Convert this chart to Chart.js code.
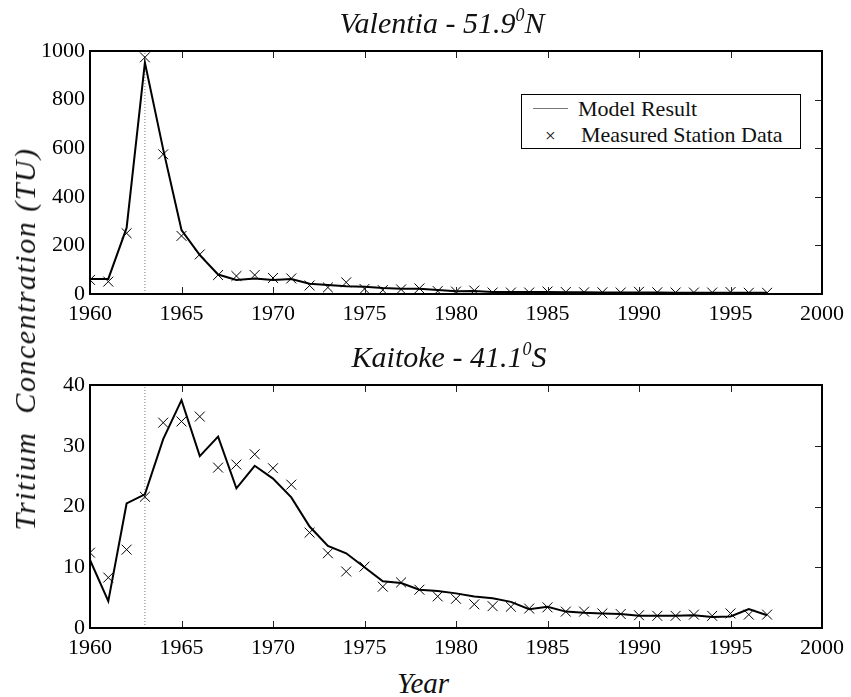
<!DOCTYPE html>
<html>
<head>
<meta charset="utf-8">
<script src="https://cdn.jsdelivr.net/npm/chart.js@4.4.0/dist/chart.umd.min.js"></script>
<style>
    body { margin: 0; background: #fff; width: 851px; height: 697px; position: relative; overflow: hidden;
           font-family: "Liberation Serif", "DejaVu Serif", serif; color: #111; }
    canvas { position: absolute; left: 0; }
    #graficoValentia { top: 30px; }
    #graficoKaitoke { top: 364px; }
    .texto { position: absolute; font-style: italic; font-size: 30px; line-height: 1; white-space: nowrap; z-index: 2; }
    .titulo { transform: translateX(-50%); }
    .titulo sup { font-size: 18px; vertical-align: 0; position: relative; top: -12px; }
    #eixoY { left: 25px; top: 339px; letter-spacing: 1.5px; transform: translate(-50%, -50%) rotate(-90deg); }
    #eixoX { font-size: 29px; }
    #legenda { position: absolute; left: 521px; top: 94px; width: 280px; height: 55px; box-sizing: border-box;
               border: 1.5px solid #000; background: #fff; font-size: 22px; z-index: 2; }
    #legenda span { position: absolute; line-height: 1; white-space: nowrap; }
    #legenda .linha { left: 11px; top: 13px; width: 35px; border-top: 1px solid #777; }
</style>
</head>
<body>
<canvas id="graficoValentia" width="851" height="300"></canvas>
<canvas id="graficoKaitoke" width="851" height="300"></canvas>

<div class="texto titulo" style="left:442px; top:8px;">Valentia - 51.9<sup>0</sup>N</div>
<div class="texto titulo" style="left:449px; top:342px;">Kaitoke - 41.1<sup>0</sup>S</div>
<div class="texto" id="eixoY">Tritium&nbsp; Concentration (TU)</div>
<div class="texto titulo" id="eixoX" style="left:423px; top:669px;">Year</div>

<div id="legenda">
    <span class="linha"></span>
    <span style="left:56px; top:3px;">Model Result</span>
    <span style="left:23px; top:31px; font-size:19px;">×</span>
    <span style="left:59px; top:29px;">Measured Station Data</span>
</div>

<script>
const years = [1960, 1961, 1962, 1963, 1964, 1965, 1966, 1967, 1968, 1969,
               1970, 1971, 1972, 1973, 1974, 1975, 1976, 1977, 1978, 1979,
               1980, 1981, 1982, 1983, 1984, 1985, 1986, 1987, 1988, 1989,
               1990, 1991, 1992, 1993, 1994, 1995, 1996, 1997];

const valentiaModel = [62, 62, 272, 952, 595, 263, 160, 80, 58, 64,
                       58, 62, 42, 37, 32, 30, 25, 22, 22, 16,
                       11, 12, 8, 8, 8, 8, 7, 7, 6, 6,
                       6, 6, 5, 5, 5, 5, 5, 5];
const valentiaMeasured = [58, 51, 250, 974, 575, 239, 163, 78, 74, 78,
                          66, 64, 35, 27, 48, 21, 16, 19, 23, 12,
                          10, 14, 6, 6, 6, 10, 8, 7, 7, 6,
                          9, 7, 6, 6, 6, 8, 5, 5];

const kaitokeModel = [11.2, 4.4, 20.5, 22.0, 31.1, 37.5, 28.3, 31.5, 23.0, 26.7,
                      24.6, 21.5, 16.7, 13.5, 12.3, 10.0, 7.7, 7.4, 6.3, 6.1,
                      5.7, 5.2, 4.9, 4.3, 3.1, 3.5, 2.7, 2.5, 2.4, 2.3,
                      2.0, 2.0, 2.0, 2.1, 1.8, 1.9, 3.1, 2.1];
const kaitokeMeasured = [12.4, 8.3, 12.9, 21.6, 33.8, 34.0, 34.8, 26.4, 26.9, 28.6,
                         26.3, 23.6, 15.7, 12.3, 9.3, 10.1, 6.8, 7.5, 6.3, 5.2,
                         4.8, 3.9, 3.6, 3.5, 3.2, 3.4, 2.7, 2.7, 2.4, 2.3,
                         2.1, 2.0, 2.0, 2.2, 2.0, 2.4, 2.2, 2.2];

const xTicks = [1960, 1965, 1970, 1975, 1980, 1985, 1990, 1995, 2000];
const valentiaYTicks = [0, 200, 400, 600, 800, 1000];
const kaitokeYTicks = [0, 10, 20, 30, 40];
const anoTeste = 1963;

const fonteEixo = { family: '"Liberation Serif", "DejaVu Serif", serif', size: 22 };

// moldura + ticks para dentro (em baixo, em cima e na direita)
const moldura = {
    id: 'moldura',
    afterDraw(chart) {
        const { ctx, chartArea: a, scales } = chart;
        ctx.save();
        ctx.strokeStyle = '#222';
        ctx.lineWidth = 1;
        ctx.beginPath();
        scales.x.ticks.forEach(t => {
            const px = Math.round(scales.x.getPixelForValue(t.value)) + 0.5;
            ctx.moveTo(px, a.bottom); ctx.lineTo(px, a.bottom - 7);
            ctx.moveTo(px, a.top); ctx.lineTo(px, a.top + 7);
        });
        scales.y.ticks.forEach(t => {
            const py = Math.round(scales.y.getPixelForValue(t.value)) + 0.5;
            ctx.moveTo(a.right, py); ctx.lineTo(a.right - 7, py);
        });
        ctx.stroke();
        ctx.strokeStyle = '#000';
        ctx.lineWidth = 2;
        ctx.strokeRect(a.left, a.top, a.right - a.left, a.bottom - a.top);
        ctx.restore();
    }
};

function criarPainel(canvasId, model, measured, yTicks) {
    const ctx = document.getElementById(canvasId).getContext('2d');
    const yMax = yTicks[yTicks.length - 1];
    return new Chart(ctx, {
        type: 'line',
        data: {
            datasets: [{
                label: 'Measured Station Data',
                data: years.map((x, i) => ({ x, y: measured[i] })),
                showLine: false,
                pointStyle: 'crossRot',
                pointRadius: 7,
                borderColor: '#000',
                borderWidth: 1,
            }, {
                label: 'Model Result',
                data: years.map((x, i) => ({ x, y: model[i] })),
                borderColor: '#000',
                borderWidth: 2,
                pointRadius: 0,
                tension: 0,
            }, {
                label: 'teste',
                data: [{ x: anoTeste, y: yTicks[0] }, { x: anoTeste, y: yMax }],
                borderColor: '#777',
                borderWidth: 1,
                borderDash: [1, 2],
                pointRadius: 0,
            }]
        },
        options: {
            responsive: false,
            animation: false,
            layout: { padding: { top: 21, right: 28, left: 0, bottom: 0 } },
            plugins: { legend: { display: false }, tooltip: { enabled: false } },
            scales: {
                x: {
                    type: 'linear',
                    min: xTicks[0],
                    max: xTicks[xTicks.length - 1],
                    afterFit: s => { s.height = 36; },
                    ticks: { stepSize: xTicks[1] - xTicks[0], callback: v => String(v), color: '#000', font: fonteEixo, padding: 7, maxRotation: 0 },
                    grid: { display: false, drawTicks: false },
                    border: { display: false }
                },
                y: {
                    min: yTicks[0],
                    max: yMax,
                    afterFit: s => { s.width = 90; },
                    ticks: { stepSize: yTicks[1] - yTicks[0], callback: v => String(v), color: '#000', font: fonteEixo, padding: 5 },
                    grid: { display: false, drawTicks: false },
                    border: { display: false }
                }
            }
        },
        plugins: [moldura]
    });
}

document.addEventListener('DOMContentLoaded', () => {
    criarPainel('graficoValentia', valentiaModel, valentiaMeasured, valentiaYTicks);
    criarPainel('graficoKaitoke', kaitokeModel, kaitokeMeasured, kaitokeYTicks);
});
</script>
</body>
</html>
